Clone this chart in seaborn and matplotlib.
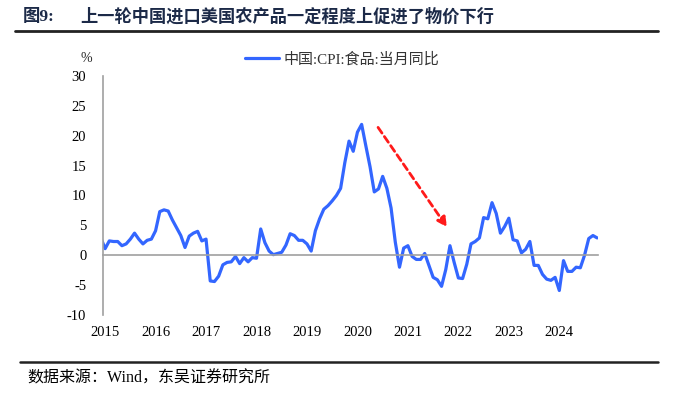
import numpy as np
import pandas as pd
import matplotlib
matplotlib.use("Agg")
import matplotlib.pyplot as plt
import seaborn as sns

# China CPI food YoY (%), monthly, Dec 2014 - Oct 2024
dec_2014 = [2.9]
y2015 = [1.1, 2.4, 2.3, 2.3, 1.6, 1.9, 2.7, 3.7, 2.7, 1.9, 2.5, 2.7]
y2016 = [4.1, 7.3, 7.6, 7.4, 5.9, 4.6, 3.3, 1.3, 3.2, 3.7, 4.0, 2.4]
y2017 = [2.7, -4.3, -4.4, -3.5, -1.6, -1.2, -1.1, -0.2, -1.4, -0.4, -1.1, -0.4]
y2018 = [-0.5, 4.4, 2.1, 0.7, 0.1, 0.3, 0.5, 1.7, 3.6, 3.3, 2.5, 2.5]
y2019 = [1.9, 0.7, 4.1, 6.1, 7.7, 8.3, 9.1, 10.0, 11.2, 15.5, 19.1, 17.4]
y2020 = [20.6, 21.9, 18.3, 14.8, 10.6, 11.1, 13.2, 11.2, 7.9, 2.2, -2.0, 1.2]
y2021 = [1.6, -0.2, -0.7, -0.7, 0.3, -1.7, -3.7, -4.1, -5.2, -2.4, 1.6, -1.2]
y2022 = [-3.8, -3.9, -1.5, 1.9, 2.3, 2.9, 6.3, 6.1, 8.8, 7.0, 3.7, 4.8]
y2023 = [6.2, 2.6, 2.4, 0.4, 1.0, 2.3, -1.7, -1.7, -3.2, -4.0, -4.2, -3.7]
y2024 = [-5.9, -0.9, -2.7, -2.7, -2.0, -2.1, 0.0, 2.8, 3.3, 2.9]

year_labels = ["2015", "2016", "2017", "2018", "2019", "2020", "2021", "2022", "2023", "2024"]
y_ticks = [-10, -5, 0, 5, 10, 15, 20, 25, 30]

title_no = "图9:"
title_text = "上一轮中国进口美国农产品一定程度上促进了物价下行"
series_name = "中国:CPI:食品:当月同比"
source_text = "数据来源：Wind，东吴证券研究所"

# trend arrow (month index, value)
arrow_start = (64.9, 21.4)
arrow_end = (81.3, 4.7)

values = dec_2014 + y2015 + y2016 + y2017 + y2018 + y2019 + y2020 + y2021 + y2022 + y2023 + y2024
dates = pd.date_range("2014-12-01", periods=len(values), freq="MS")
df = pd.DataFrame({"date": dates, "value": values})
# months since Jan 2015
df["m"] = (df["date"].dt.year - 2015) * 12 + df["date"].dt.month - 1

sns.set_theme(style="white")
plt.rcParams["font.family"] = ["Liberation Serif", "Noto Sans CJK SC", "DejaVu Sans"]
plt.rcParams["axes.unicode_minus"] = False

fig = plt.figure(figsize=(6.73, 3.94), dpi=100)
ax = fig.add_axes([103 / 673, 1 - 315 / 394, 495 / 673, 239 / 394])

sns.lineplot(data=df, x="m", y="value", ax=ax, color="#3366ff", linewidth=2.3,
             label=series_name)

ax.set_xlim(-0.5, 117.2)
ax.set_ylim(-10, 30)
ax.set_xlabel("")
ax.set_ylabel("")

axis_grey = "#a0a0a0"
for s in ["top", "right"]:
    ax.spines[s].set_visible(False)
ax.spines["left"].set_color(axis_grey)
ax.spines["left"].set_linewidth(1.2)
ax.spines["bottom"].set_position(("data", 0))
ax.spines["bottom"].set_color(axis_grey)
ax.spines["bottom"].set_linewidth(1.2)

year_pos = [12 * i for i in range(len(year_labels))]
ax.set_xticks(year_pos)
ax.set_yticks(y_ticks)
ax.tick_params(axis="x", direction="in", length=4, width=1, color=axis_grey, labelbottom=False)
ax.tick_params(axis="y", direction="in", length=4, width=1, color=axis_grey, pad=12,
               labelsize=10.5, labelcolor="black")
for lab in ax.get_yticklabels():
    lab.set_fontfamily("Liberation Serif")

for pos, lab in zip(year_pos, year_labels):
    ax.text(pos, -0.075, lab, transform=ax.get_xaxis_transform(), ha="center", va="center",
            fontsize=10.5, family="Liberation Serif", color="black")

ax.text(-0.033, 1.075, "%", transform=ax.transAxes, ha="center", va="center",
        fontsize=10, family="Liberation Serif")

ax.annotate("", xy=arrow_end, xytext=arrow_start,
            arrowprops=dict(arrowstyle="-|>", color="#ff1a1a", lw=2, linestyle=(0, (2.5, 1.5)),
                            mutation_scale=14, shrinkA=0, shrinkB=0))

leg = ax.legend(loc="center", bbox_to_anchor=(0.483, 1.071), frameon=False,
                fontsize=10.8, handlelength=2.3, handletextpad=0.3)
for t in leg.get_texts():
    t.set_fontfamily(["Liberation Serif", "Noto Sans CJK SC"])
    t.set_color("#333333")

# header and footer
fig.text(23 / 673, 1 - 17 / 394, title_no, fontsize=12.5, fontweight="bold",
         family=["Liberation Serif", "Noto Sans CJK SC"], color="#1c2a48", va="center")
fig.text(80 / 673, 1 - 17 / 394, title_text, fontsize=12.4, fontweight="bold",
         family="Noto Sans CJK SC", color="#1c2a48", va="center")
fig.add_artist(plt.Line2D([15 / 673, 658 / 673], [1 - 31 / 394, 1 - 31 / 394],
                          color="#222222", linewidth=2))
fig.add_artist(plt.Line2D([20 / 673, 658 / 673], [1 - 362 / 394, 1 - 362 / 394],
                          color="#222222", linewidth=1.8))
fig.text(27 / 673, 1 - 379 / 394, source_text, fontsize=11.5,
         family=["Liberation Serif", "Noto Sans CJK SC"], color="black", va="center")

fig.savefig("out.png", dpi=100)
